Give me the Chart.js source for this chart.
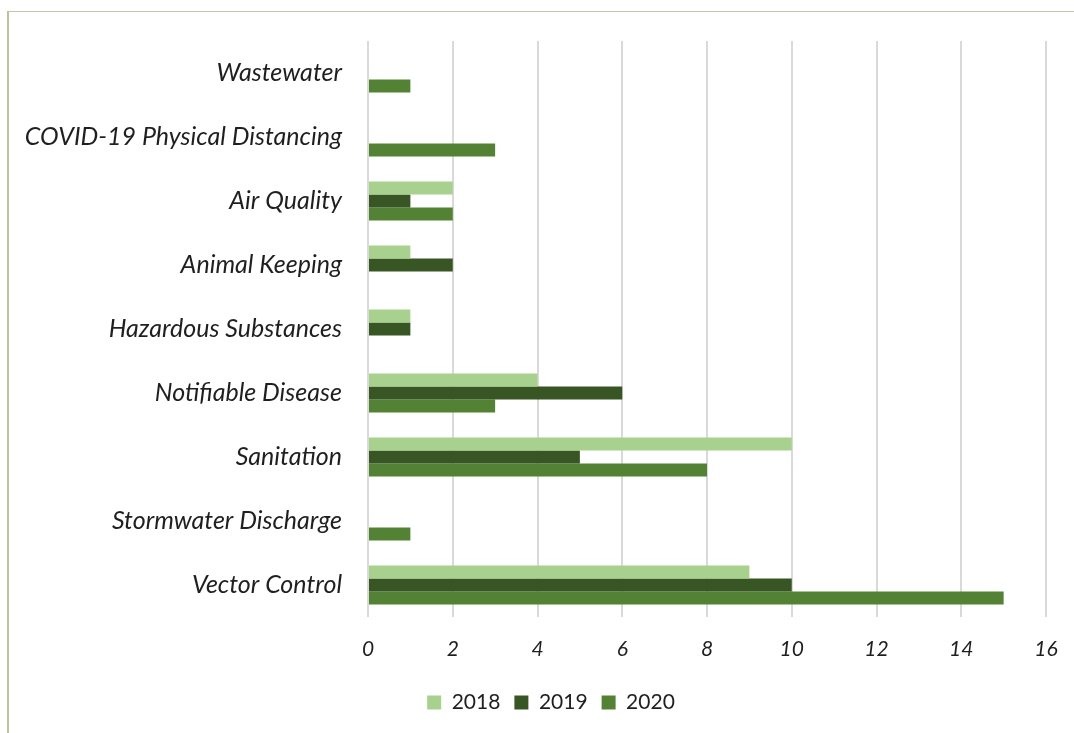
<!DOCTYPE html>
<html>
<head>
<meta charset="utf-8">
<script src="https://cdn.jsdelivr.net/npm/chart.js@4/dist/chart.umd.min.js"></script>
<style>
  html, body { margin: 0; padding: 0; background: #fff; }
  .frame {
    position: absolute; left: 7px; top: 11px; width: 1200px; height: 900px;
    border-top: 1px solid #c2c8ad; border-left: 2px solid #b9c49c;
  }
  #bar-chart { position: absolute; left: 0; top: 0; }
</style>
</head>
<body>
<div class="frame"></div>
<canvas id="bar-chart" width="1074" height="733"></canvas>
<script>
const barCtx = document.getElementById('bar-chart').getContext('2d');

// categories, top to bottom
const categories = [
  'Wastewater',
  'COVID-19 Physical Distancing',
  'Air Quality',
  'Animal Keeping',
  'Hazardous Substances',
  'Notifiable Disease',
  'Sanitation',
  'Stormwater Discharge',
  'Vector Control',
];

const years = ['2018', '2019', '2020'];

const values2018 = [0, 0, 2, 1, 1, 4, 10, 0, 9];
const values2019 = [0, 0, 1, 2, 1, 6, 5, 0, 10];
const values2020 = [1, 3, 2, 0, 0, 3, 8, 1, 15];

const colors = ['#a9d18e', '#375623', '#548235'];

const buildDatasets = () => {
  const series = [values2018, values2019, values2020];
  const datasets = [];
  for (let i = 0; i < series.length; i++) {
    datasets.push({
      label: years[i],
      data: series[i],
      backgroundColor: colors[i],
      borderWidth: 0,
      barPercentage: 1.0,
      categoryPercentage: 0.61,
    });
  }
  return datasets;
};

const textColor = '#1f1f1f';

// nudge the legend a little right of the canvas centre
const legendShift = {
  id: 'legendShift',
  afterLayout: chart => {
    chart.legend.left += 28;
    chart.legend.right += 28;
  },
};

const myChart = new Chart(barCtx, {
  type: 'bar',
  data: {
    labels: categories,
    datasets: buildDatasets(),
  },
  plugins: [legendShift],
  options: {
    indexAxis: 'y',
    responsive: false,
    animation: false,
    layout: {
      padding: { top: 40, right: 28, bottom: 10, left: 0 },
    },
    plugins: {
      legend: {
        position: 'bottom',
        labels: {
          boxWidth: 14,
          boxHeight: 14,
          padding: 14,
          color: textColor,
          font: { family: 'Lato', size: 21 },
        },
      },
      tooltip: { enabled: false },
    },
    scales: {
      x: {
        min: 0,
        max: 16,
        ticks: {
          stepSize: 2,
          padding: 20,
          color: textColor,
          font: { family: 'Lato', size: 21, style: 'italic' },
        },
        grid: {
          color: '#d9d9d9',
          lineWidth: 2,
          drawTicks: false,
        },
        border: { display: false },
        afterFit: axis => {
          axis.height = 61;
          axis.paddingLeft = 0;
          axis.paddingRight = 0;
        },
      },
      y: {
        ticks: {
          padding: 26,
          color: textColor,
          font: { family: 'Lato', size: 25, style: 'italic' },
        },
        grid: { display: false, drawTicks: false },
        border: { display: false },
        afterFit: axis => { axis.width = 368; },
      },
    },
  },
});
</script>
</body>
</html>
